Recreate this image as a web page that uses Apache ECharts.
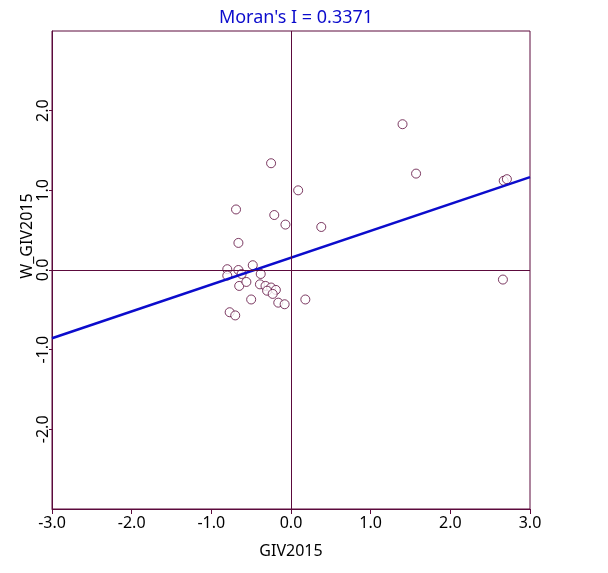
<!DOCTYPE html>
<html>
<head>
<meta charset="utf-8">
<script src="https://cdn.jsdelivr.net/npm/echarts@6/dist/echarts.min.js"></script>
<style>
  html, body { margin: 0; padding: 0; background: #fff; }
  #chart { width: 608px; height: 573px; }
  #edge { position: absolute; left: 2px; top: 0; width: 1px; height: 573px; background: #b4c8e0; }
</style>
</head>
<body>
<div id="edge"></div>
<div id="chart"></div>
<script>
// GIV2015 (x) vs spatial lag W_GIV2015 (y)
const givValues = [-0.25, 0.09, -0.69, -0.21, -0.07, 0.38, -0.66, -0.48, -0.80, -0.66,
    -0.80, -0.62, -0.38, -0.65, -0.56, -0.39, -0.32, -0.25, -0.19, -0.30,
    -0.23, -0.50, -0.16, -0.08, 0.18, -0.77, -0.70, 1.40, 1.57, 2.67,
    2.71, 2.66];
const lagValues = [1.34, 1.00, 0.76, 0.69, 0.57, 0.54, 0.34, 0.06, 0.01, 0.00,
    -0.07, -0.05, -0.05, -0.20, -0.15, -0.18, -0.20, -0.22, -0.25, -0.26,
    -0.30, -0.37, -0.41, -0.43, -0.37, -0.53, -0.57, 1.83, 1.21, 1.12,
    1.14, -0.12];
const moransI = 0.3371;   // slope of the fitted line
const fitIntercept = 0.155;
const axisTicks = [-3, -2, -1, 0, 1, 2, 3];

const maroon = "#5c0a3c";
const blue = "#0c0ccc";
const font = "Noto Sans";

const points = givValues.map((x, i) => [x, lagValues[i]]);
const xMin = axisTicks[0];
const xMax = axisTicks[axisTicks.length - 1];
const fitLine = [
    [xMin, fitIntercept + moransI * xMin],
    [xMax, fitIntercept + moransI * xMax]
];

const chart = echarts.init(document.getElementById("chart"), null, { renderer: "canvas" });

const option = {
    animation: false,
    backgroundColor: "#fff",
    title: {
        text: "Moran's I = " + moransI.toFixed(4),
        left: 291,
        top: 4,
        textAlign: "center",
        textStyle: { color: blue, fontFamily: font, fontSize: 18, fontWeight: "normal" }
    },
    grid: {
        left: 52, right: 78, top: 31, bottom: 64,
        show: true, borderColor: maroon, borderWidth: 1, backgroundColor: "transparent"
    },
    xAxis: {
        type: "value",
        min: xMin, max: xMax, interval: 1,
        name: "GIV2015",
        nameLocation: "middle",
        nameGap: 34,
        nameTextStyle: { color: "#000", fontFamily: font, fontSize: 16 },
        axisLine: { show: true, onZero: false, lineStyle: { color: maroon, width: 1 } },
        axisTick: { show: true, length: 5, lineStyle: { color: maroon } },
        axisLabel: {
            color: "#000", fontFamily: font, fontSize: 16, margin: 6,
            formatter: v => v.toFixed(1)
        },
        splitLine: { show: false }
    },
    yAxis: {
        type: "value",
        min: xMin, max: xMax, interval: 1,
        axisLine: { show: true, onZero: false, lineStyle: { color: maroon, width: 1 } },
        axisTick: { show: true, length: 3, lineStyle: { color: maroon } },
        axisLabel: {
            color: "#000", fontFamily: font, fontSize: 16, margin: 1, rotate: 90,
            showMinLabel: false, showMaxLabel: false,
            formatter: v => v.toFixed(1)
        },
        splitLine: { show: false }
    },
    graphic: [{
        type: "text",
        x: 27, y: 236,
        rotation: Math.PI / 2,
        style: {
            text: "W_GIV2015", fill: "#000", font: "16px " + font,
            textAlign: "center", textVerticalAlign: "middle"
        }
    }],
    series: [
        {
            type: "scatter",
            data: points,
            symbol: "circle",
            symbolSize: 9,
            itemStyle: { color: "#fff", borderColor: maroon, borderWidth: 1 },
            z: 3,
            markLine: {
                silent: true,
                symbol: "none",
                label: { show: false },
                lineStyle: { color: maroon, width: 1, type: "solid" },
                data: [{ xAxis: 0 }, { yAxis: 0 }]
            }
        },
        {
            type: "line",
            data: fitLine,
            showSymbol: false,
            lineStyle: { color: blue, width: 2.5 },
            z: 4
        }
    ]
};

chart.setOption(option);
</script>
</body>
</html>
